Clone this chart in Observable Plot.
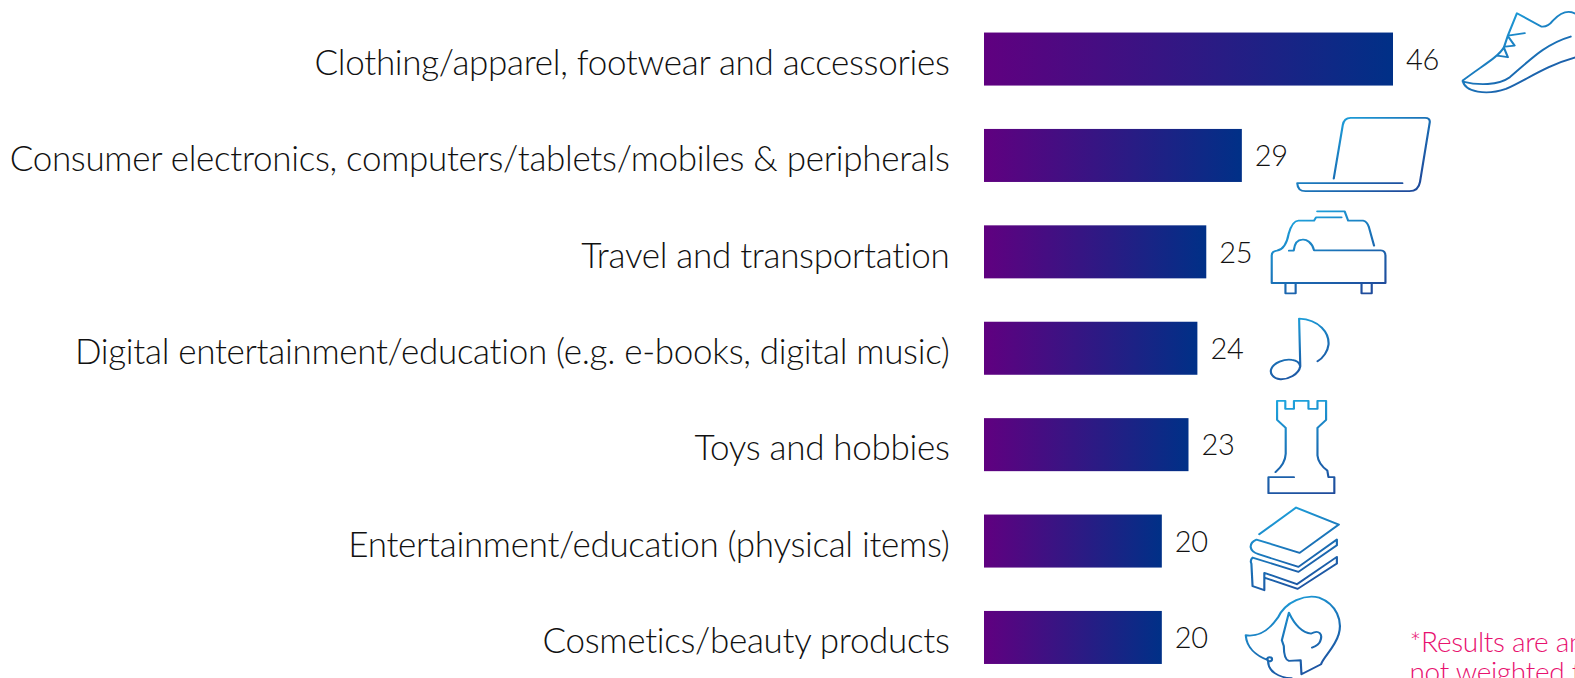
<!DOCTYPE html>
<html>
<head>
<meta charset="utf-8">
<script src="https://cdn.jsdelivr.net/npm/d3@7"></script>
<script src="https://cdn.jsdelivr.net/npm/@observablehq/plot@0.6"></script>
<style>
html,body{margin:0;padding:0;background:#fff;overflow:hidden}
svg{display:block}
</style>
</head>
<body>
<div id="chart"></div>
<script>
const categories = [
  "Clothing/apparel, footwear and accessories",
  "Consumer electronics, computers/tablets/mobiles & peripherals",
  "Travel and transportation",
  "Digital entertainment/education (e.g. e-books, digital music)",
  "Toys and hobbies",
  "Entertainment/education (physical items)",
  "Cosmetics/beauty products"
];
const values = [46, 29, 25, 24, 23, 20, 20];
const footnote = ["*Results are an", "not weighted f"];

// Line icons, outlined in a crop scaled 2.55x across and 3x down
const iconPaths = [
  {box:[1270,25,350,265], d:"M1568 40C1550 28 1530 35 1510 60C1500 75 1490 80 1480 78L1418 38L1395 105L1385 140C1370 170 1330 195 1280 240C1285 275 1340 285 1390 265C1440 240 1490 195 1568 170M1280 243C1320 255 1370 255 1400 230C1450 180 1490 130 1555 108M1395 105L1438 98M1397 110L1412 135L1388 138M1385 142L1395 170L1368 165"},
  {box:[850,345,355,235], d:"M952 535L975 375Q978 353 995 353L1185 353Q1197 353 1197 365L1172 545Q1168 573 1145 573L880 573Q860 573 859 549L1127 549"},
  {box:[785,625,305,260], d:"M908 632L978 632L987 660L1025 660Q1035 662 1040 680L1053 735M970 650L905 650L900 660L860 660Q845 660 835 700Q828 745 805 750Q792 752 792 765L792 847L1082 847L1082 765Q1082 750 1070 749L900 749C895 725 880 715 870 717C855 717 850 730 848 750L836 750M827 847L827 878L853 878L853 847M1021 847L1021 878L1047 878L1047 847"},
  {box:[785,45,160,195], d:"M910 180C925 170 936 150 938 130C940 95 915 55 863 52L866 195C862 220 835 235 815 234C795 232 788 215 792 203C798 185 825 172 845 176C858 178 864 185 866 195"},
  {box:[778,295,180,290], d:"M850 530L785 530L785 578L953 578L953 530L938 530L935 510Q912 490 910 465L910 382L932 358L932 301L910 301L910 325L887 325L887 301L850 301L850 325L828 325L828 301L807 301L807 358L829 382L829 460Q828 490 803 515"},
  {box:[733,615,237,260], d:"M762 702L856 622L965 673L865 758L755 718Q740 725 740 740Q742 755 760 762L862 800L960 718L960 735L862 815L745 772Q738 780 742 790L745 858L775 870L775 818L858 852L960 770L960 790L860 866L775 832"},
  {box:[722,875,252,262], d:"M728 1003C770 1010 795 975 810 950C830 900 880 880 915 890C960 910 975 960 965 1000C955 1040 925 1070 920 1090L870 1120L868 1078L838 1080C825 1075 825 1050 825 1035L820 1018L838 935C850 965 870 995 895 998C915 985 925 1000 918 1020Q915 1032 897 1040M728 1003C730 1040 755 1065 785 1078M795 1075A6 6 0 1 0 783 1075A6 6 0 1 0 795 1075M785 1082C785 1110 810 1130 845 1132"}
];
// Distance from the bar's end and its centre line to the icon's centre
const iconGaps = [134, 121, 122, 102, 112, 132, 130.5];
const iconDy = [-6.5, -1.6, 0, 0, 2, 7, -1.7];
const cropX = 2.55, cropY = 3;

const iconSrc = ({box:[x,y,w,h], d}) => "data:image/svg+xml," + encodeURIComponent(
  `<svg xmlns="http://www.w3.org/2000/svg" width="${w/cropX}" height="${h/cropY}" viewBox="${x} ${y} ${w} ${h}" preserveAspectRatio="none">
   <defs><linearGradient id="s" gradientUnits="userSpaceOnUse" x1="${x+w*.25}" y1="${y}" x2="${x+w*.75}" y2="${y+h}">
   <stop offset="0" stop-color="#1ea7e0"/><stop offset=".55" stop-color="#1a6fb5"/><stop offset="1" stop-color="#1f4c9c"/></linearGradient></defs>
   <path d="${d}" fill="none" stroke="url(#s)" stroke-width="5.5" stroke-linejoin="round" stroke-linecap="round"/></svg>`);

const rows = categories.map((category, i) => ({category, value: values[i], icon: iconPaths[i], i}));

const gradient = () => {
  const defs = d3.create("svg:defs");
  const g = defs.append("linearGradient").attr("id", "barFill").attr("x1", 0).attr("x2", 1).attr("y1", 0).attr("y2", 0);
  g.append("stop").attr("offset", 0).attr("stop-color", "#600080");
  g.append("stop").attr("offset", 1).attr("stop-color", "#003087");
  return defs.node();
};

const plot = Plot.plot({
  width: 1575,
  height: 678,
  margin: 0,
  style: {background: "#fff", fontFamily: "Lato, sans-serif", letterSpacing: "-0.3px", overflow: "hidden"},
  x: {domain: [0, 46], range: [984, 1393], axis: null},
  y: {domain: categories, range: [22.9, 673.6], paddingInner: 0.45, paddingOuter: 0.1, round: false, axis: null},
  marks: [
    gradient,
    Plot.barX(rows, {x: "value", y: "category", fill: "url(#barFill)"}),
    Plot.text(rows, {x: 0, y: "category", text: "category", textAnchor: "end", dx: -35, dy: 4,
      fontSize: 35, fontWeight: 300, fill: "#111"}),
    Plot.text(rows, {x: "value", y: "category", text: d => String(d.value), textAnchor: "start", dx: 12.5, dy: 1,
      fontSize: 29, fontWeight: 300, fill: "#111"}),
    ...rows.map(r => Plot.image([r], {
      x: "value", y: "category",
      src: d => iconSrc(d.icon),
      width: r.icon.box[2] / cropX, height: r.icon.box[3] / cropY,
      dx: iconGaps[r.i], dy: iconDy[r.i], preserveAspectRatio: "none"
    })),
    Plot.text([footnote.join("\n")], {
      frameAnchor: "top-left", dx: 1409, dy: 630, textAnchor: "start", lineHeight: 1.07,
      fontSize: 28, fontWeight: 300, fill: "#e8116f"
    })
  ]
});
document.getElementById("chart").append(plot);
</script>
</body>
</html>
